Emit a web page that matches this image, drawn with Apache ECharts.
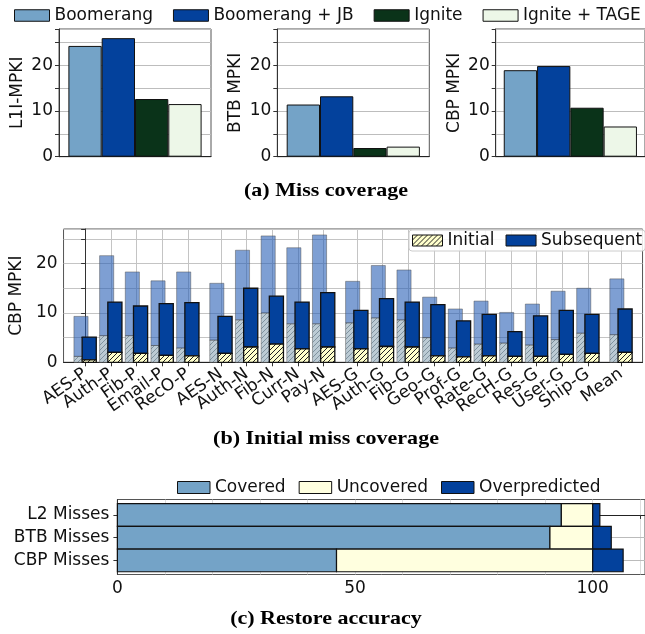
<!DOCTYPE html>
<html><head><meta charset="utf-8">
<script src="https://cdn.jsdelivr.net/npm/echarts@6/dist/echarts.min.js"></script>
<style>html,body{margin:0;padding:0;background:#fff}#c{width:645px;height:634px}</style>
</head><body><div id="c"></div>
<script>
// ---------------- data ----------------
const seriesNames = ['Boomerang', 'Boomerang + JB', 'Ignite', 'Ignite + TAGE'];
const l1iMpki = [24.2, 25.9, 12.6, 11.5];
const btbMpki = [11.4, 13.2, 1.9, 2.2];
const cbpMpki = [18.9, 19.8, 10.7, 6.6];

const workloads = ['AES-P','Auth-P','Fib-P','Email-P','RecO-P','AES-N','Auth-N','Fib-N','Curr-N','Pay-N',
  'AES-G','Auth-G','Fib-G','Geo-G','Prof-G','Rate-G','RecH-G','Res-G','User-G','Ship-G','Mean'];
const workloadGroup = [0,0,0,0,0,1,1,1,1,1,2,2,2,2,2,2,2,2,2,2,3];
// Boomerang (background, translucent) : initial part and total CBP MPKI
const boomInitial = [1.2,5.4,5.4,3.4,2.9,4.5,8.6,10.0,7.8,7.8,8.0,9.0,8.6,5.0,2.9,3.7,3.9,3.5,4.6,5.9,5.6];
const boomTotal   = [9.3,21.6,18.3,16.5,18.3,16.0,22.7,25.6,23.2,25.8,16.4,19.6,18.7,13.2,10.8,12.4,10.1,11.8,14.4,15.0,16.9];
// Ignite : initial part and total CBP MPKI
const ignInitial  = [0.5,2.0,1.8,1.4,1.3,1.8,3.1,3.7,2.7,3.1,2.7,3.2,3.1,1.3,1.1,1.3,1.2,1.2,1.6,1.8,2.0];
const ignTotal    = [5.1,12.2,11.4,11.9,12.1,9.3,15.0,13.4,12.2,14.1,10.5,12.9,12.2,11.7,8.4,9.7,6.2,9.4,10.5,9.7,10.8];

const missTypes = ['L2 Misses', 'BTB Misses', 'CBP Misses'];
const covered = [93.4, 91.0, 46.1];
const uncovered = [6.6, 9.0, 53.9];
const overpredicted = [1.5, 3.9, 6.4];

// ---------------- styles ----------------
const FONT = 'DejaVu Sans';
const FS = 17;
const barColors = ['#74a3c7', '#03419c', '#0a3319', '#edf7e8'];
const darkBlue = '#03419c';
const lightBlue = '#74a3c7';
const uncoveredColor = '#ffffdf';

function hatch(bg, line, size, lw) {
  const c = document.createElement('canvas');
  c.width = size; c.height = size;
  const g = c.getContext('2d');
  g.fillStyle = bg; g.fillRect(0, 0, size, size);
  g.strokeStyle = line; g.lineWidth = lw;
  g.beginPath();
  g.moveTo(0, size); g.lineTo(size, 0);
  g.moveTo(-size, size); g.lineTo(size, -size);
  g.moveTo(0, 2 * size); g.lineTo(2 * size, 0);
  g.stroke();
  return { image: c, repeat: 'repeat' };
}
const yellowHatch = hatch('#ffffcc', '#222', 5, 1);
const grayHatch = hatch('#bccbd4', '#7f929f', 5, 1);

// ---------------- top panels ----------------
const panels = [
  { vals: l1iMpki, name: 'L1I-MPKI', left: 59 },
  { vals: btbMpki, name: 'BTB MPKI', left: 277.3 },
  { vals: cbpMpki, name: 'CBP MPKI', left: 495.7 }
];
const grids = [], xAxes = [], yAxes = [], series = [];
const axisTxt = { fontFamily: FONT, fontSize: FS, color: '#111' };

panels.forEach((p, i) => {
  grids.push({ left: p.left, top: 29, width: 152, height: 127.7, show: true, borderColor: '#555', borderWidth: 1 });
  xAxes.push({ gridIndex: i, type: 'category', data: [''], axisTick: { show: false }, axisLabel: { show: false },
    axisLine: { lineStyle: { color: '#222' } } });
  yAxes.push({ gridIndex: i, type: 'value', min: 0, max: 27.9, interval: 5,
    name: p.name, nameLocation: 'middle', nameGap: 33, nameTextStyle: { fontFamily: FONT, fontSize: FS, color: '#111' },
    axisLabel: Object.assign({ customValues: [0, 10, 20], margin: 6 }, axisTxt),
    axisTick: { show: true, length: 4, lineStyle: { color: '#333' } },
    axisLine: { show: true, lineStyle: { color: '#333' } },
    splitLine: { lineStyle: { color: '#bdbdbd' } } });
  seriesNames.forEach((n, s) => {
    series.push({ type: 'bar', name: n, xAxisIndex: i, yAxisIndex: i, data: [p.vals[s]],
      barWidth: 33.3, barGap: '0%',
      itemStyle: { color: barColors[s], borderColor: '#111', borderWidth: 1 } });
  });
});

// ---------------- middle chart ----------------
const GROUP_GAP = 0.29;
const positions = workloads.map((w, i) => i + workloadGroup[i] * GROUP_GAP);
const OFF = 0.16, HALF = 0.275;
const X_MIN = -0.84, X_MAX = 21.71;
// empty placeholder labels at both axis ends keep every real label visible
const labelValues = [X_MIN].concat(positions, [X_MAX]);

grids.push({ left: 55.7, top: 229, width: 593, height: 133.3, show: true, borderColor: '#555', borderWidth: 1 });
xAxes.push({ gridIndex: 3, type: 'value', min: X_MIN, max: X_MAX,
  axisLabel: Object.assign({ customValues: labelValues, rotate: 35, margin: 10, hideOverlap: false,
    formatter: v => { const k = positions.findIndex(p => Math.abs(p - v) < 1e-6); return k >= 0 ? workloads[k] : ''; } }, axisTxt),
  axisTick: { customValues: positions, length: 4, lineStyle: { color: '#333' } },
  axisLine: { lineStyle: { color: '#222' } },
  splitLine: { show: true, lineStyle: { color: '#c4c4c4' } } });
yAxes.push({ gridIndex: 3, type: 'value', min: 0, max: 27, interval: 5,
  name: 'CBP MPKI', nameLocation: 'middle', nameGap: 33, nameTextStyle: { fontFamily: FONT, fontSize: FS, color: '#111' },
  axisLabel: Object.assign({ customValues: [0, 10, 20], margin: 6 }, axisTxt),
  axisTick: { show: true, length: 4, lineStyle: { color: '#333' } },
  axisLine: { show: true, lineStyle: { color: '#333' } },
  splitLine: { lineStyle: { color: '#c4c4c4' } } });

function vbar(offset, style) {
  return function (params, api) {
    const x = api.value(0), lo = api.value(1), hi = api.value(2);
    const a = api.coord([x + offset - HALF, hi]);
    const b = api.coord([x + offset + HALF, lo]);
    return { type: 'rect', shape: { x: a[0], y: a[1], width: b[0] - a[0], height: b[1] - a[1] }, style: style };
  };
}
const lightStroke = 'rgba(70,70,70,0.45)';
series.push({ type: 'custom', name: 'Boomerang initial', xAxisIndex: 3, yAxisIndex: 3,
  renderItem: vbar(-OFF, { fill: grayHatch, stroke: lightStroke, lineWidth: 1 }),
  data: positions.map((x, i) => [x, 0, boomInitial[i]]) });
series.push({ type: 'custom', name: 'Boomerang subsequent', xAxisIndex: 3, yAxisIndex: 3,
  renderItem: vbar(-OFF, { fill: 'rgba(40,95,182,0.6)', stroke: lightStroke, lineWidth: 1 }),
  data: positions.map((x, i) => [x, boomInitial[i], boomTotal[i]]) });
series.push({ type: 'custom', name: 'Subsequent', xAxisIndex: 3, yAxisIndex: 3,
  itemStyle: { color: darkBlue, borderColor: '#111', borderWidth: 1 },
  renderItem: vbar(OFF, { fill: darkBlue, stroke: '#111', lineWidth: 1.3 }),
  data: positions.map((x, i) => [x, ignInitial[i], ignTotal[i]]) });
series.push({ type: 'custom', name: 'Initial', xAxisIndex: 3, yAxisIndex: 3,
  itemStyle: { color: yellowHatch, borderColor: '#111', borderWidth: 1 },
  renderItem: vbar(OFF, { fill: yellowHatch, stroke: '#111', lineWidth: 1.3 }),
  data: positions.map((x, i) => [x, 0, ignInitial[i]]) });

// ---------------- bottom chart ----------------
const catIdx = missTypes.map((m, i) => i);
grids.push({ left: 117.4, top: 499.5, width: 527.8, height: 75, show: true, borderColor: '#555', borderWidth: 1 });
xAxes.push({ gridIndex: 4, type: 'value', min: 0, max: 111,
  axisLabel: Object.assign({ customValues: [0, 50, 100], margin: 6 }, axisTxt),
  axisTick: { customValues: [0,10,20,30,40,50,60,70,80,90,100,110], length: 4, lineStyle: { color: '#333' } },
  axisLine: { lineStyle: { color: '#222' } },
  splitLine: { show: true, lineStyle: { color: '#bbb', type: 'dotted' } } });
yAxes.push({ gridIndex: 4, type: 'value', min: -0.68, max: 2.62, inverse: true,
  axisLabel: Object.assign({ customValues: catIdx, margin: 8, showMinLabel: true, showMaxLabel: true,
    formatter: v => missTypes[Math.round(v)] }, axisTxt),
  axisTick: { customValues: catIdx, length: 4, lineStyle: { color: '#333' } },
  axisLine: { show: true, lineStyle: { color: '#333' } },
  splitLine: { show: true, lineStyle: { color: '#bbb' } } });

function hbar(style) {
  return function (params, api) {
    const c = api.value(0), lo = api.value(1), hi = api.value(2);
    const a = api.coord([lo, c]);
    const b = api.coord([hi, c]);
    const h = Math.abs(api.size([0, 1])[1]);
    return { type: 'rect', shape: { x: a[0], y: a[1] - h / 2, width: b[0] - a[0], height: h }, style: style };
  };
}
series.push({ type: 'custom', name: 'Covered', xAxisIndex: 4, yAxisIndex: 4,
  itemStyle: { color: lightBlue, borderColor: '#111', borderWidth: 1 },
  renderItem: hbar({ fill: lightBlue, stroke: '#111', lineWidth: 1.2 }),
  data: catIdx.map(i => [i, 0, covered[i]]) });
series.push({ type: 'custom', name: 'Uncovered', xAxisIndex: 4, yAxisIndex: 4,
  itemStyle: { color: uncoveredColor, borderColor: '#111', borderWidth: 1 },
  renderItem: hbar({ fill: uncoveredColor, stroke: '#111', lineWidth: 1.2 }),
  data: catIdx.map(i => [i, covered[i], covered[i] + uncovered[i]]) });
series.push({ type: 'custom', name: 'Overpredicted', xAxisIndex: 4, yAxisIndex: 4,
  itemStyle: { color: darkBlue, borderColor: '#111', borderWidth: 1 },
  renderItem: hbar({ fill: darkBlue, stroke: '#111', lineWidth: 1.2 }),
  data: catIdx.map(i => [i, covered[i] + uncovered[i], covered[i] + uncovered[i] + overpredicted[i]]) });

// ---------------- legends ----------------
const legTxt = { fontFamily: FONT, fontSize: FS, color: '#111' };
const legends = [
  { left: 14, top: 7, icon: 'rect', itemWidth: 35, itemHeight: 11.5, itemGap: 20, padding: 0, width: 640,
    data: seriesNames.map((n, s) => ({ name: n, itemStyle: { color: barColors[s], borderColor: '#111', borderWidth: 1 } })),
    textStyle: legTxt, selectedMode: false },
  { left: 409, top: 230, icon: 'rect', itemWidth: 30, itemHeight: 11, itemGap: 11, padding: [2, 3], width: 260,
    backgroundColor: 'rgba(255,255,255,0.85)', borderColor: '#ccc', borderWidth: 1, borderRadius: 3,
    data: [{ name: 'Initial', itemStyle: { color: yellowHatch, borderColor: '#111', borderWidth: 1 } },
           { name: 'Subsequent', itemStyle: { color: darkBlue, borderColor: '#111', borderWidth: 1 } }],
    textStyle: legTxt, selectedMode: false },
  { left: 177, top: 479, icon: 'rect', itemWidth: 32.5, itemHeight: 12, itemGap: 13, padding: 0, width: 460,
    data: [{ name: 'Covered', itemStyle: { color: lightBlue, borderColor: '#111', borderWidth: 1 } },
           { name: 'Uncovered', itemStyle: { color: uncoveredColor, borderColor: '#111', borderWidth: 1 } },
           { name: 'Overpredicted', itemStyle: { color: darkBlue, borderColor: '#111', borderWidth: 1 } }],
    textStyle: legTxt, selectedMode: false }
];

// ---------------- captions ----------------
const capFont = 'bold 19px "Liberation Serif", serif';
function caption(text, y) {
  return { type: 'text', x: 326, y: y, scaleX: 1.16,
    style: { text: text, font: capFont, fill: '#000', textAlign: 'center', textVerticalAlign: 'middle', align: 'center', verticalAlign: 'middle' } };
}

const chart = echarts.init(document.getElementById('c'), null, { renderer: 'canvas' });
chart.setOption({
  animation: false,
  backgroundColor: '#fff',
  grid: grids, xAxis: xAxes, yAxis: yAxes, series: series,
  legend: legends,
  graphic: [caption('(a) Miss coverage', 191), caption('(b) Initial miss coverage', 439), caption('(c) Restore accuracy', 619)]
});
</script></body></html>
